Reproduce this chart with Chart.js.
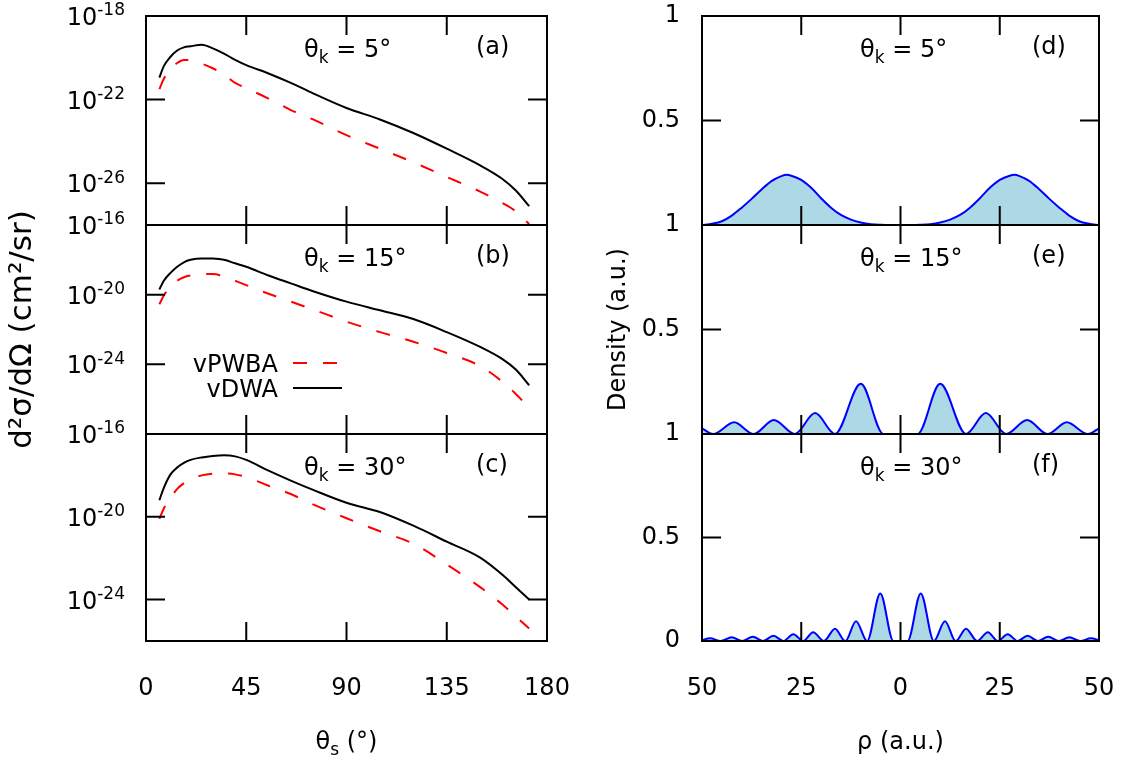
<!DOCTYPE html>
<html>
<head>
<meta charset="utf-8">
<script src="https://cdn.jsdelivr.net/npm/chart.js@4.4.1/dist/chart.umd.min.js"></script>
<style>
  html, body { margin: 0; padding: 0; background: #fff; }
  #fig { position: relative; width: 1129px; height: 759px; overflow: hidden; }
  #fig canvas { position: absolute; }
</style>
</head>
<body>
<div id="fig"></div>
<script>
// === Data ===
// scattering angle grid (degrees), shared by the three left panels
const thetaS = [6, 8, 11, 14, 17, 20, 25, 30, 35, 40, 45, 55, 65, 75, 90, 105, 120, 135, 150, 160, 166, 172];

// log10 of d2sigma/dOmega (cm^2/sr)
const dwaA  = [-20.95, -20.4, -19.95, -19.65, -19.5, -19.45, -19.37, -19.55, -19.8, -20.1, -20.35, -20.75, -21.2, -21.7, -22.4, -22.95, -23.6, -24.35, -25.15, -25.8, -26.35, -27.1];
const pwbaA = [-21.5, -21.0, -20.55, -20.25, -20.1, -20.12, -20.28, -20.5, -20.8, -21.2, -21.45, -21.95, -22.5, -22.95, -23.7, -24.35, -25.0, -25.7, -26.4, -26.95, -27.35, -27.95];
const dwaB  = [-19.7, -19.2, -18.75, -18.4, -18.14, -18.0, -17.92, -17.93, -18.0, -18.2, -18.4, -18.9, -19.35, -19.8, -20.4, -20.9, -21.4, -22.15, -23.0, -23.7, -24.3, -25.2];
const pwbaB = [-20.55, -20.05, -19.55, -19.2, -19.0, -18.9, -18.82, -18.82, -18.95, -19.2, -19.45, -19.95, -20.4, -20.85, -21.55, -22.15, -22.7, -23.35, -24.1, -25.0, -25.7, -26.5];
const dwaC  = [-19.2, -18.6, -17.95, -17.62, -17.4, -17.25, -17.13, -17.06, -17.03, -17.08, -17.25, -17.77, -18.25, -18.7, -19.32, -19.77, -20.43, -21.2, -21.97, -22.8, -23.4, -24.0];
const pwbaC = [-20.1, -19.6, -19.1, -18.65, -18.38, -18.18, -18.0, -17.92, -17.9, -17.95, -18.08, -18.5, -18.9, -19.4, -20.07, -20.7, -21.3, -22.3, -23.4, -24.24, -24.82, -25.4];

// y ranges (log10) and labelled tick exponents
const rangeA = [-28, -18], rangeB = [-28, -16], rangeC = [-26, -16];
const expTicksA = [-18, -22, -26];
const expTicksB = [-16, -20, -24];
const expTicksC = [-16, -20, -24];
const thetaTicks = [45, 90, 135];

// density profiles
const rhoD  = [-50, -47.5, -45, -42.5, -40, -37.5, -35, -32.5, -30, -28.7, -27.5, -25, -22.5, -20, -17.5, -15, -12.5, -10, -7.5, -5, -2.5, 0,
               2.5, 5, 7.5, 10, 12.5, 15, 17.5, 20, 22.5, 25, 27.5, 28.7, 30, 32.5, 35, 37.5, 40, 42.5, 45, 47.5, 50];
const densD = [0, 0.006, 0.018, 0.045, 0.083, 0.125, 0.17, 0.21, 0.234, 0.24, 0.236, 0.216, 0.178, 0.128, 0.083, 0.048, 0.026, 0.012, 0.004, 0.001, 0, 0,
               0, 0.001, 0.004, 0.012, 0.026, 0.048, 0.083, 0.128, 0.178, 0.216, 0.236, 0.24, 0.234, 0.21, 0.17, 0.125, 0.083, 0.045, 0.018, 0.006, 0];
const rhoE  = [-50, -47.2, -41.9, -37, -31.9, -26.6, -21.5, -16.5, -10, -4.3, 0, 4.3, 10, 16.5, 21.5, 26.6, 31.9, 37, 41.9, 47.2, 50];
const densE = [0.027, 0, 0.056, 0, 0.067, 0, 0.10, 0, 0.24, 0, 0, 0, 0.24, 0, 0.10, 0, 0.067, 0, 0.056, 0, 0.027];
const rhoF  = [-50, -48, -45.3, -42.5, -39.9, -37.2, -34.6, -32, -29.5, -27, -24.5, -22, -19.3, -16.5, -13.9, -11.2, -8.4, -5.1, -1.8, 0,
               1.8, 5.1, 8.4, 11.2, 13.9, 16.5, 19.3, 22, 24.5, 27, 29.5, 32, 34.6, 37.2, 39.9, 42.5, 45.3, 48, 50];
const densF = [0.004, 0.013, 0, 0.018, 0, 0.021, 0, 0.025, 0, 0.033, 0, 0.042, 0, 0.059, 0, 0.096, 0, 0.23, 0, 0,
               0, 0.23, 0, 0.096, 0, 0.059, 0, 0.042, 0, 0.033, 0, 0.025, 0, 0.021, 0, 0.018, 0, 0.013, 0.004];
const rhoTicks = [-25, 0, 25];
const densTicks = [0.5];

// === Style ===
const FAMILY = "'DejaVu Sans', sans-serif";
const FS = 24;
Chart.defaults.font.family = FAMILY;
Chart.defaults.font.size = FS;
Chart.defaults.color = '#000';
Chart.defaults.animation = false;

// text with sub/superscript pieces: parts = [[text, 'sub'|'sup'|undefined], ...]
function drawRich(ctx, x, y, parts, size, align) {
  const fonts = parts.map(p => (p[1] ? Math.round(size * 0.7) : size) + 'px ' + FAMILY);
  let total = 0;
  const widths = parts.map((p, i) => {
    ctx.font = fonts[i];
    const w = ctx.measureText(p[0]).width;
    total += w;
    return w;
  });
  let cx = align === 'right' ? x - total : align === 'center' ? x - total / 2 : x;
  ctx.textAlign = 'left';
  ctx.textBaseline = 'alphabetic';
  parts.forEach((p, i) => {
    ctx.font = fonts[i];
    const dy = p[1] === 'sub' ? size * 0.25 : p[1] === 'sup' ? -size * 0.4 : 0;
    ctx.fillText(p[0], cx, y + dy);
    cx += widths[i];
  });
}

// frame, inward ticks, panel labels
const framePlugin = {
  id: 'frame',
  afterDraw(chart, args, o) {
    const { ctx, chartArea: a, scales } = chart;
    const L = 19;
    ctx.save();
    ctx.strokeStyle = '#000';
    ctx.lineWidth = 2;
    ctx.strokeRect(a.left, a.top, a.right - a.left, a.bottom - a.top);
    ctx.beginPath();
    o.xTicks.forEach(v => {
      const px = scales.x.getPixelForValue(v);
      ctx.moveTo(px, a.bottom); ctx.lineTo(px, a.bottom - L);
      ctx.moveTo(px, a.top); ctx.lineTo(px, a.top + L);
    });
    o.yTicks.forEach(v => {
      const py = scales.y.getPixelForValue(v);
      ctx.moveTo(a.left, py); ctx.lineTo(a.left + L, py);
      ctx.moveTo(a.right, py); ctx.lineTo(a.right - L, py);
    });
    ctx.stroke();

    ctx.fillStyle = '#000';
    drawRich(ctx, a.left + 158, a.top + 41, [['θ'], ['k', 'sub'], [' = ' + o.angle + '°']], FS);
    drawRich(ctx, a.left + 330, a.top + 38, [[o.tag]], FS);

    if (o.expLabels) {
      o.expLabels.forEach(e => {
        const py = scales.y.getPixelForValue(Math.pow(10, e));
        drawRich(ctx, a.left - 21, py + 9, [['10'], [String(e), 'sup']], FS, 'right');
      });
    }

    if (o.legend) {
      const items = [['vPWBA', chart.data.datasets[1], 138, 192], ['vDWA', chart.data.datasets[0], 163, 196]];
      items.forEach(([label, ds, dy, x2]) => {
        drawRich(ctx, a.left + 132, a.top + dy + 9, [[label]], FS, 'right');
        ctx.save();
        ctx.strokeStyle = ds.borderColor;
        ctx.lineWidth = ds.borderWidth;
        ctx.setLineDash(ds.borderDash || []);
        ctx.beginPath();
        ctx.moveTo(a.left + 147, a.top + dy);
        ctx.lineTo(a.left + x2, a.top + dy);
        ctx.stroke();
        ctx.restore();
      });
    }

    if (o.xTitle) {
      drawRich(ctx, (a.left + a.right) / 2, chart.height - 10, o.xTitle, FS, 'center');
    }
    ctx.restore();
  }
};

function makeCanvas(left, top, w, h) {
  const c = document.createElement('canvas');
  c.width = w; c.height = h;
  c.style.left = left + 'px'; c.style.top = top + 'px';
  c.style.width = w + 'px'; c.style.height = h + 'px';
  document.getElementById('fig').appendChild(c);
  return c;
}

const toPoints = (xs, ys) => xs.map((x, i) => ({ x: x, y: ys[i] }));
const toLogPoints = (xs, es) => xs.map((x, i) => ({ x: x, y: Math.pow(10, es[i]) }));

// axes sized by hand so every panel frame lands where it should
function fixX(showX) {
  return s => {
    s.height = showX ? 118 : 0;
    s.paddingLeft = 0;
    s.paddingRight = 0;
  };
}
function fixY(w) {
  return s => {
    s.width = w;
    s.paddingTop = 0;
    s.paddingBottom = 0;
  };
}

// === Left column: cross sections ===
function leftPanel(top, height, showX, dwa, pwba, range, expTicks, frameOpts, yTitle) {
  const bottomExtra = showX ? 118 : 16;
  const canvas = makeCanvas(0, top - 16, 600, height + 16 + bottomExtra);
  new Chart(canvas, {
    type: 'line',
    data: {
      datasets: [
        { label: 'vDWA', data: toLogPoints(thetaS, dwa), borderColor: '#000000', borderWidth: 2,
          pointRadius: 0, cubicInterpolationMode: 'monotone' },
        { label: 'vPWBA', data: toLogPoints(thetaS, pwba), borderColor: '#ff0000', borderWidth: 2,
          borderDash: [14, 16], pointRadius: 0, cubicInterpolationMode: 'monotone' }
      ]
    },
    options: {
      responsive: false,
      devicePixelRatio: 1,
      layout: { padding: { left: 0, top: 16, right: 53, bottom: showX ? 0 : 16 } },
      plugins: {
        legend: { display: false },
        tooltip: { enabled: false },
        frame: Object.assign({ xTicks: thetaTicks, yTicks: expTicks.map(e => Math.pow(10, e)), expLabels: expTicks }, frameOpts)
      },
      scales: {
        x: {
          type: 'linear', min: 0, max: 180, display: showX,
          afterFit: fixX(showX),
          ticks: { stepSize: 45, padding: 33 },
          grid: { display: false, drawTicks: false },
          border: { display: false }
        },
        y: {
          type: 'logarithmic', min: Math.pow(10, range[0]), max: Math.pow(10, range[1]),
          afterFit: fixY(146),
          ticks: { display: false },
          grid: { display: false, drawTicks: false },
          border: { display: false },
          title: { display: !!yTitle, text: yTitle || '', font: { size: 31 }, padding: { top: 4, bottom: 0 } }
        }
      }
    },
    plugins: [framePlugin]
  });
}

leftPanel(16, 209, false, dwaA, pwbaA, rangeA, expTicksA, { angle: 5, tag: '(a)' });
leftPanel(225, 209, false, dwaB, pwbaB, rangeB, expTicksB, { angle: 15, tag: '(b)', legend: true }, 'd²σ/dΩ (cm²/sr)');
leftPanel(434, 207, true, dwaC, pwbaC, rangeC, expTicksC, { angle: 30, tag: '(c)', xTitle: [['θ'], ['s', 'sub'], [' (°)']] });

// === Right column: densities ===
function rightPanel(top, height, showX, rho, dens, frameOpts, yTitle) {
  const bottomExtra = showX ? 118 : 16;
  const canvas = makeCanvas(560, top - 16, 569, height + 16 + bottomExtra);
  new Chart(canvas, {
    type: 'line',
    data: {
      datasets: [
        { label: 'density', data: toPoints(rho, dens), borderColor: '#0000ff', borderWidth: 2,
          backgroundColor: '#add8e6', fill: 'origin', pointRadius: 0, cubicInterpolationMode: 'monotone' }
      ]
    },
    options: {
      responsive: false,
      devicePixelRatio: 1,
      layout: { padding: { left: 0, top: 16, right: 30, bottom: showX ? 0 : 16 } },
      plugins: {
        legend: { display: false },
        tooltip: { enabled: false },
        frame: Object.assign({ xTicks: rhoTicks, yTicks: densTicks }, frameOpts)
      },
      scales: {
        x: {
          type: 'linear', min: -50, max: 50, display: showX,
          afterFit: fixX(showX),
          ticks: { stepSize: 25, padding: 33, callback: v => String(Math.abs(v)) },
          grid: { display: false, drawTicks: false },
          border: { display: false }
        },
        y: {
          type: 'linear', min: 0, max: 1,
          afterFit: fixY(142),
          ticks: { stepSize: 0.5, padding: 22, callback: v => (v === 0 && !showX) ? '' : String(v) },
          grid: { display: false, drawTicks: false },
          border: { display: false },
          title: { display: !!yTitle, text: yTitle || '', padding: { top: 44, bottom: 0 } }
        }
      }
    },
    plugins: [framePlugin]
  });
}

rightPanel(16, 209, false, rhoD, densD, { angle: 5, tag: '(d)' });
rightPanel(225, 209, false, rhoE, densE, { angle: 15, tag: '(e)' }, 'Density (a.u.)');
rightPanel(434, 207, true, rhoF, densF, { angle: 30, tag: '(f)', xTitle: [['ρ (a.u.)']] });
</script>
</body>
</html>
